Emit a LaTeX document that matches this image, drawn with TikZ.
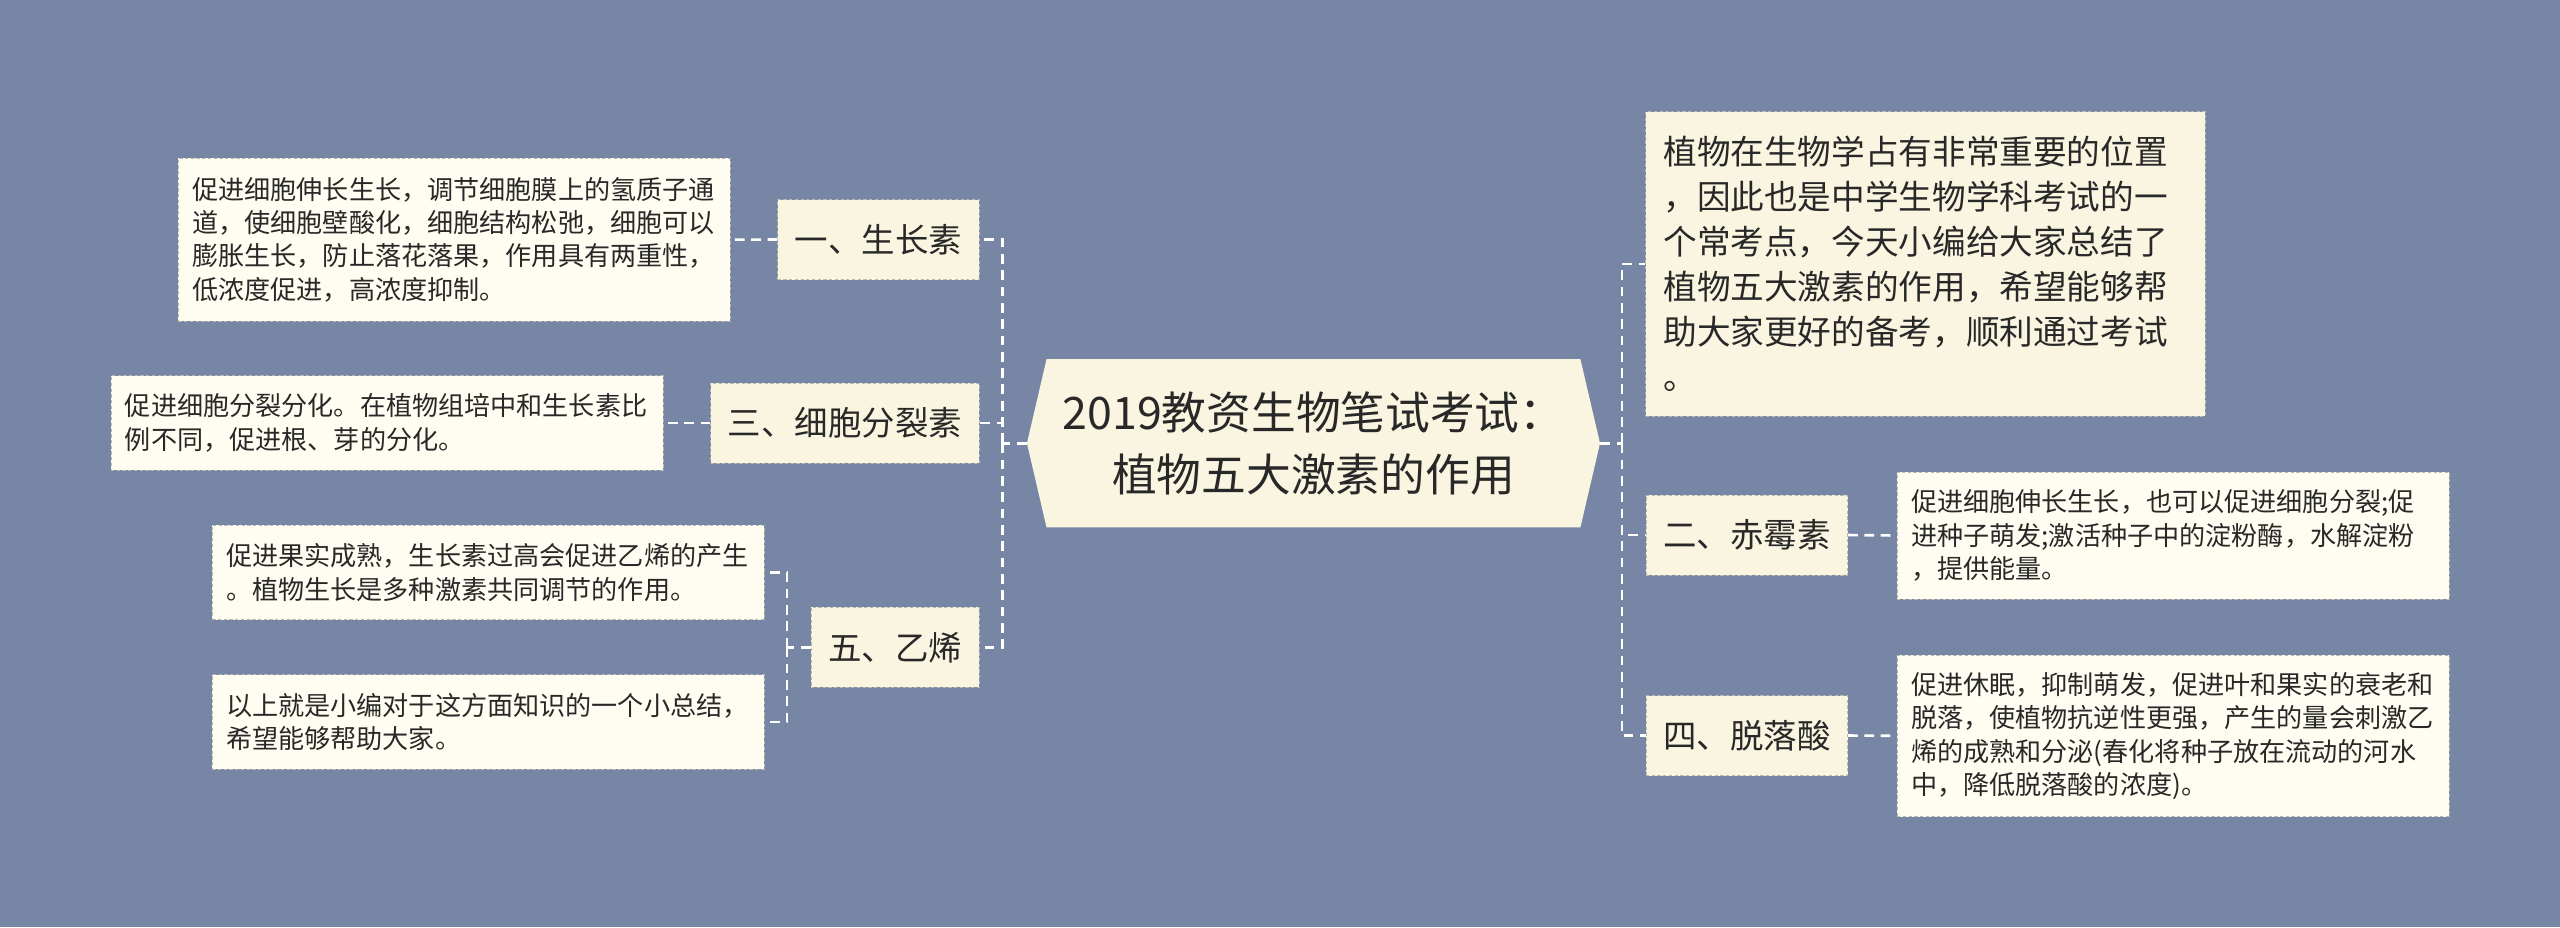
\documentclass[tikz,border=0pt]{standalone}
\usepackage{fontspec}
\setmainfont{Noto Sans CJK SC}
\definecolor{MapBg}{RGB}{120,134,166}
\definecolor{MapCream}{RGB}{250,245,225}
\definecolor{MapIvory}{RGB}{255,253,241}
\definecolor{MapEdge}{RGB}{185,185,175}
\definecolor{MapText}{RGB}{40,40,40}

\begin{document}
\begin{tikzpicture}[x=1pt,y=-1pt,
    cat/.style={draw=MapEdge,dash pattern=on 2pt off 1.5pt,fill=MapCream,text=MapText,inner xsep=10.5pt,inner ysep=0pt,minimum height=49pt,font=\fontsize{20.5}{24}\selectfont},
    intro/.style={draw=MapEdge,dash pattern=on 2pt off 1.5pt,fill=MapCream,text=MapText,align=left,inner sep=0pt,text width=321pt,minimum width=342.5pt,minimum height=186.4pt,font=\fontsize{20.6}{27.6}\selectfont},
    note/.style={draw=MapEdge,dash pattern=on 2pt off 1.5pt,fill=MapIvory,text=MapText,align=left,inner sep=0pt,text width=321pt,minimum width=338pt,font=\fontsize{16}{20.4}\selectfont},
    link/.style={white,line width=1.6pt,dash pattern=on 6pt off 4pt}]
      \fill[MapBg] (0,0) rectangle (1568,568);
      \fill[MapCream] (629,271.5) -- (641,220) -- (968,220) -- (980,271.5) -- (968,323) -- (641,323) -- cycle;
      \node[text=MapText,align=center,minimum width=351pt,minimum height=103pt,inner sep=0pt,font=\fontsize{27.4}{37.8}\selectfont] (title) at (804.5,271.5) {2019教资生物笔试考试：\\植物五大激素的作用};
      \node[cat,anchor=east] (shengzhang) at (600,146.7) {一、生长素};
      \node[cat,anchor=east] (xibao) at (600,259) {三、细胞分裂素};
      \node[cat,anchor=east] (yixi) at (600,396.5) {五、乙烯};
      \node[cat,anchor=west] (chimei) at (1008,327.7) {二、赤霉素};
      \node[cat,anchor=west] (tuoluo) at (1008,450.5) {四、脱落酸};
      \node[intro] (introbox) at (1179.3,161.6) {植物在生物学占有非常重要的位置\\，因此也是中学生物学科考试的一\\个常考点，今天小编给大家总结了\\植物五大激素的作用，希望能够帮\\助大家更好的备考，顺利通过考试\\。};
      \node[note,minimum height=100pt] (shengzhangnote) at (278.3,146.8) {促进细胞伸长生长，调节细胞膜上的氢质子通\\道，使细胞壁酸化，细胞结构松弛，细胞可以\\膨胀生长，防止落花落果，作用具有两重性，\\低浓度促进，高浓度抑制。};
      \node[note,minimum height=58pt] (xibaonote) at (237,259) {促进细胞分裂分化。在植物组培中和生长素比\\例不同，促进根、芽的分化。};
      \node[note,minimum height=58pt] (yixinote1) at (299,350.6) {促进果实成熟，生长素过高会促进乙烯的产生\\。植物生长是多种激素共同调节的作用。};
      \node[note,minimum height=58pt] (yixinote2) at (299,442.3) {以上就是小编对于这方面知识的一个小总结，\\希望能够帮助大家。};
      \node[note,minimum height=78pt] (chimeinote) at (1331,328) {促进细胞伸长生长，也可以促进细胞分裂;促\\进种子萌发;激活种子中的淀粉酶，水解淀粉\\，提供能量。};
      \node[note,minimum height=99pt] (tuoluonote) at (1331,450.7) {促进休眠，抑制萌发，促进叶和果实的衰老和\\脱落，使植物抗逆性更强，产生的量会刺激乙\\烯的成熟和分泌(春化将种子放在流动的河水\\中，降低脱落酸的浓度)。};
      \coordinate (ljoin) at (614,271.5);
      \coordinate (rjoin) at (993.5,271.5);
      \coordinate (yjoin) at (482,396.5);
      \draw[link] (title.west) -- (ljoin);
      \draw[link] (ljoin) |- (shengzhang.east);
      \draw[link] (ljoin) |- (xibao.east);
      \draw[link] (ljoin) |- (yixi.east);
      \draw[link] (title.east) -- (rjoin);
      \draw[link] (rjoin) |- (introbox.west);
      \draw[link] (rjoin) |- (chimei.west);
      \draw[link] (rjoin) |- (tuoluo.west);
      \draw[link] (shengzhang.west) -- (shengzhangnote.east);
      \draw[link] (xibao.west) -- (xibaonote.east);
      \draw[link] (chimei.east) -- (chimeinote.west);
      \draw[link] (tuoluo.east) -- (tuoluonote.west);
      \draw[link] (yixi.west) -- (yjoin);
      \draw[link] (yjoin) |- (yixinote1.east);
      \draw[link] (yjoin) |- (yixinote2.east);
    \end{tikzpicture}
\end{document}
